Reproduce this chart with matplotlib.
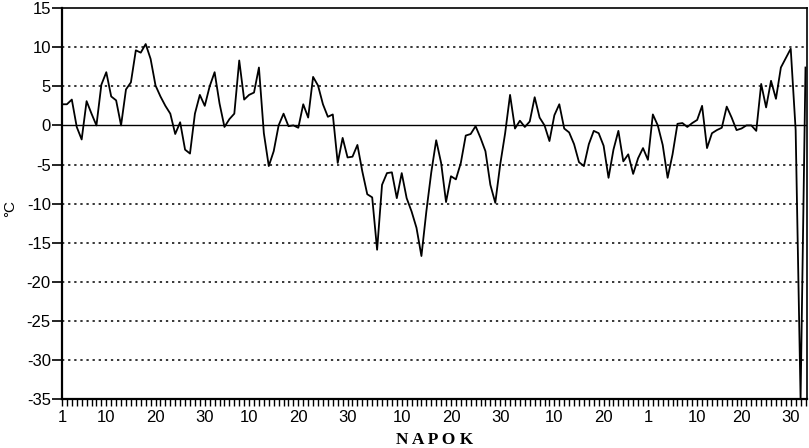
import matplotlib
matplotlib.use("Agg")
import matplotlib.pyplot as plt
import numpy as np

# daily temperature deviation (°C)
temps = [
    2.7, 2.7, 3.3, -0.2, -1.8, 3.1, 1.5, 0.0, 5.2, 6.8,
    3.7, 3.2, 0.0, 4.6, 5.5, 9.6, 9.3, 10.4, 8.5, 5.1,
    3.7, 2.5, 1.5, -1.1, 0.4, -3.1, -3.6, 1.5, 3.9, 2.5,
    5.0, 6.8, 2.8, -0.2, 0.8, 1.5, 8.3, 3.3, 3.9, 4.2,
    7.4, -1.0, -5.2, -3.3, 0.0, 1.5, -0.1, 0.0, -0.3, 2.7,
    1.0, 6.2, 5.1, 2.7, 1.1, 1.4, -4.8, -1.6, -4.1, -4.0,
    -2.5, -5.9, -8.8, -9.2, -15.9, -7.6, -6.1, -6.0, -9.3, -6.1,
    -9.3, -11.0, -13.1, -16.7, -11.0, -6.0, -1.9, -4.8, -9.8, -6.5,
    -6.9, -4.8, -1.3, -1.1, -0.1, -1.6, -3.3, -7.6, -9.9, -5.0,
    -1.0, 3.9, -0.4, 0.6, -0.2, 0.5, 3.6, 1.0, 0.0, -2.0,
    1.3, 2.7, -0.4, -0.9, -2.4, -4.7, -5.2, -2.4, -0.7, -1.0,
    -2.6, -6.7, -3.1, -0.7, -4.6, -3.7, -6.2, -4.2, -2.9, -4.4,
    1.4, 0.0, -2.5, -6.7, -3.7, 0.2, 0.3, -0.2, 0.3, 0.7,
    2.5, -2.9, -1.0, -0.6, -0.3, 2.4, 1.0, -0.6, -0.4, 0.0,
    0.0, -0.7, 5.3, 2.3, 5.7, 3.4, 7.4, 8.6, 9.8, -0.6,
    -35.0, 7.4,
]
days = np.arange(1, len(temps) + 1)

tick_pos = [1, 10, 20, 30, 39, 49, 59, 70, 80, 90, 101, 111, 120, 130, 139, 149]
tick_labels = ["1", "10", "20", "30", "10", "20", "30", "10", "20", "30",
               "10", "20", "1", "10", "20", "30"]
y_ticks = list(range(-35, 20, 5))

plt.rcParams["font.family"] = ["Liberation Sans", "DejaVu Sans"]

fig = plt.figure(figsize=(8.09, 4.48), dpi=100)
ax = fig.add_axes([0.0766, 0.109, 0.9209, 0.873])

# dotted horizontal grid, solid zero line
for y in y_ticks:
    if y in (0, 15, -35):
        continue
    ax.axhline(y, color="black", lw=1.1, ls=(0, (1.5, 2.5)), zorder=1)
ax.axhline(0, color="black", lw=1.0, zorder=1)

ax.plot(days, temps, color="black", lw=1.3, zorder=3)

ax.set_xlim(1, 152.3)
ax.set_ylim(-35, 15)

ax.set_yticks(y_ticks)
ax.set_yticklabels([str(v) for v in y_ticks], fontsize=12)
ax.set_xticks(tick_pos)
ax.set_xticklabels(tick_labels, fontsize=12)
ax.set_xticks(days, minor=True)

ax.tick_params(axis="y", direction="out", length=7, width=1.2, pad=1)
ax.tick_params(axis="x", which="both", direction="out", length=5, width=1.0, pad=3)

for side in ("left", "bottom"):
    ax.spines[side].set_linewidth(1.6)
for side in ("top", "right"):
    ax.spines[side].set_linewidth(1.2)

ax.set_xlabel("N A P O K", family="Liberation Serif", fontweight="bold",
              fontsize=12.5, labelpad=5)
fig.text(0.013, 0.535, "°C", rotation=90, fontsize=11, ha="center", va="center")

fig.savefig("out.png", dpi=100)
